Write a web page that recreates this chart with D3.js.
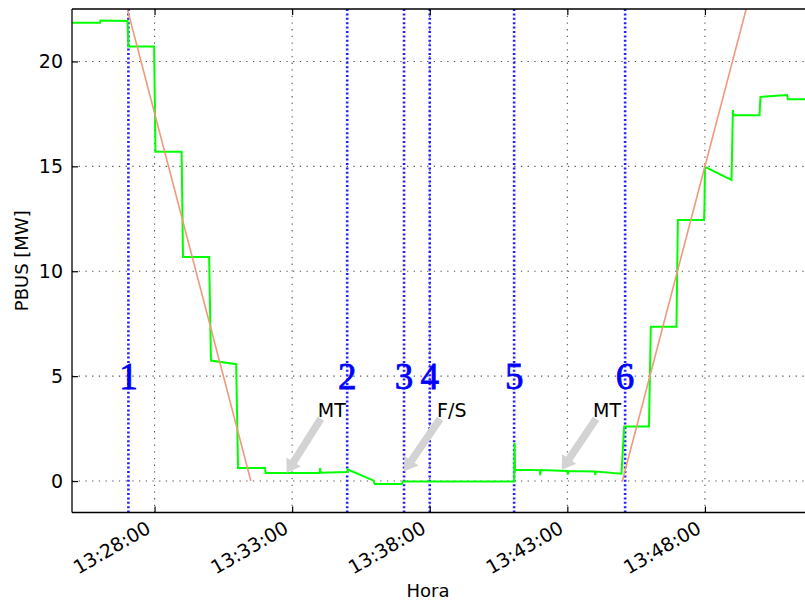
<!DOCTYPE html>
<html>
<head>
<meta charset="utf-8">
<script src="https://cdn.jsdelivr.net/npm/d3@7"></script>
<style>
	body { margin: 0; background: #fff; }
	svg { display: block; font-family: "DejaVu Sans", sans-serif; }
</style>
</head>
<body>
<svg id="chart" width="805" height="603"></svg>
<script>
// Measured power on the bus (green steps)
const times = [
	"13:25:00", "13:26:01", "13:26:02", "13:27:01", "13:27:03", "13:27:59",
	"13:28:02", "13:28:59", "13:29:02", "13:29:59", "13:30:03", "13:30:58",
	"13:31:02", "13:32:01", "13:32:02", "13:34:00", "13:34:01", "13:34:02",
	"13:35:00", "13:35:01", "13:35:57", "13:36:00", "13:36:59", "13:37:02",
	"13:41:04", "13:41:05", "13:41:06", "13:42:00", "13:42:01", "13:42:02",
	"13:43:00", "13:43:01", "13:43:02", "13:44:00", "13:44:01", "13:44:02",
	"13:44:58", "13:45:04", "13:45:58", "13:46:02", "13:46:58", "13:47:01",
	"13:47:58", "13:47:59", "13:48:00", "13:48:58", "13:49:01", "13:49:02",
	"13:49:59", "13:50:01", "13:50:59", "13:51:01", "13:52:00"
];
const pbus = [
	21.84, 21.84, 21.95, 21.93, 20.71, 20.71,
	15.70, 15.70, 10.68, 10.68, 5.74, 5.57,
	0.62, 0.62, 0.38, 0.38, 0.62, 0.40,
	0.43, 0.55, 0.03, -0.14, -0.14, -0.02,
	-0.02, 1.82, 0.54, 0.52, 0.28, 0.52,
	0.48, 0.30, 0.48, 0.45, 0.28, 0.45,
	0.35, 2.60, 2.60, 7.36, 7.36, 12.44,
	12.44, 13.0, 14.98, 14.35, 17.68, 17.44,
	17.44, 18.31, 18.40, 18.20, 18.20
];

// Ramp references (salmon lines)
const rampDownTimes = ["13:27:00", "13:31:30"];
const rampDownValues = [22.55, 0];
const rampUpTimes = ["13:45:00", "13:50:00"];
const rampUpValues = [0, 25];

// Numbered events (blue dotted lines)
const eventTimes = ["13:27:03", "13:35:00", "13:37:04", "13:38:00", "13:41:04", "13:45:06"];
const eventLabels = ["1", "2", "3", "4", "5", "6"];
const eventLabelValue = 5;

// Annotations: text anchor and arrow tip
const noteLabels = ["MT", "F/S", "MT"];
const noteTextTimes = ["13:33:56", "13:38:16", "13:43:56"];
const noteTextValues = [3.06, 3.06, 3.06];
const noteTipTimes = ["13:32:48", "13:37:04", "13:42:48"];
const noteTipValues = [0.38, 0.46, 0.54];

// Axes
const xTickLabels = ["13:28:00", "13:33:00", "13:38:00", "13:43:00", "13:48:00"];
const yTicks = [0, 5, 10, 15, 20];
const xDomain = ["13:25:00", "13:52:00"];
const yDomain = [-1.5, 22.5];

const parse = d3.timeParse("%H:%M:%S");

const svg = d3.select("#chart");
const margin = { left: 72, top: 9, right: 815, bottom: 512.5 };

const x = d3.scaleTime()
	.domain(xDomain.map(parse))
	.range([margin.left, margin.right]);
const y = d3.scaleLinear()
	.domain(yDomain)
	.range([margin.bottom, margin.top]);

svg.append("defs").append("clipPath").attr("id", "plot-clip")
	.append("rect")
	.attr("x", margin.left).attr("y", margin.top)
	.attr("width", margin.right - margin.left)
	.attr("height", margin.bottom - margin.top);

// Grid
const grid = svg.append("g").attr("class", "grid");
grid.selectAll(".gx")
	.data(xTickLabels.map(parse))
	.enter().append("line")
	.attr("x1", d => x(d)).attr("x2", d => x(d))
	.attr("y1", margin.top).attr("y2", margin.bottom)
	.attr("stroke", "#555").attr("stroke-width", 1.1)
	.attr("stroke-dasharray", "1.3,5.4");
grid.selectAll(".gy")
	.data(yTicks)
	.enter().append("line")
	.attr("y1", d => y(d)).attr("y2", d => y(d))
	.attr("x1", margin.left).attr("x2", margin.right)
	.attr("stroke", "#555").attr("stroke-width", 1.1)
	.attr("stroke-dasharray", "1.3,5.4");

const plot = svg.append("g").attr("clip-path", "url(#plot-clip)");

// Event lines
plot.selectAll(".event")
	.data(eventTimes.map(parse))
	.enter().append("line")
	.attr("class", "event")
	.attr("x1", d => x(d)).attr("x2", d => x(d))
	.attr("y1", margin.top).attr("y2", margin.bottom)
	.attr("stroke", "#2020ff").attr("stroke-width", 2.6)
	.attr("stroke-dasharray", "2,2.4");

// Measured power
const series = times.map((t, i) => ({ t: parse(t), v: pbus[i] }));
const line = d3.line().x(d => x(d.t)).y(d => y(d.v));

plot.append("path")
	.datum(series)
	.attr("d", line)
	.attr("fill", "none")
	.attr("stroke", "#00ff00")
	.attr("stroke-width", 2);

// Ramp references
[[rampDownTimes, rampDownValues], [rampUpTimes, rampUpValues]].forEach(([ts, vs]) => {
	plot.append("path")
		.datum(ts.map((t, i) => ({ t: parse(t), v: vs[i] })))
		.attr("d", line)
		.attr("fill", "none")
		.attr("stroke", "#ee9a7c")
		.attr("stroke-width", 1.6);
});

// Event numbers
plot.selectAll(".event-label")
	.data(eventTimes)
	.enter().append("text")
	.attr("x", d => x(parse(d)))
	.attr("y", y(eventLabelValue) + 12.5)
	.attr("text-anchor", "middle")
	.style("font-family", "'Liberation Serif', serif")
	.style("font-size", "37px")
	.attr("fill", "#0000ff")
	.attr("stroke", "#0000ff")
	.attr("stroke-width", 0.8)
	.text((d, i) => eventLabels[i]);

// Annotations with gray arrows
noteLabels.forEach((label, i) => {
	const tx = x(parse(noteTextTimes[i])), ty = y(noteTextValues[i]);
	const px = x(parse(noteTipTimes[i])), py = y(noteTipValues[i]);
	const sx = tx + 3, sy = ty + 2;
	const len = Math.hypot(px - sx, py - sy);
	const ang = Math.atan2(py - sy, px - sx) * 180 / Math.PI;
	const shaft = 3.8, head = 8.5, headLen = 13;
	svg.append("path")
		.attr("transform", `translate(${sx},${sy}) rotate(${ang})`)
		.attr("d", `M0,${-shaft}L${len - headLen},${-shaft}L${len - headLen},${-head}L${len},0` +
			`L${len - headLen},${head}L${len - headLen},${shaft}L0,${shaft}Z`)
		.attr("fill", "#d3d3d3");
	svg.append("text")
		.attr("x", tx).attr("y", ty)
		.style("font-size", "19px")
		.attr("fill", "#000")
		.text(label);
});

// Spines
svg.append("line")
	.attr("x1", margin.left).attr("x2", margin.left)
	.attr("y1", margin.top).attr("y2", margin.bottom)
	.attr("stroke", "#000").attr("stroke-width", 1.3);
svg.append("line")
	.attr("x1", margin.left).attr("x2", margin.right)
	.attr("y1", margin.bottom).attr("y2", margin.bottom)
	.attr("stroke", "#000").attr("stroke-width", 1.3);
svg.append("line")
	.attr("x1", margin.left).attr("x2", margin.right)
	.attr("y1", margin.top).attr("y2", margin.top)
	.attr("stroke", "#000").attr("stroke-width", 1.3);

// X axis (inward ticks, rotated labels)
const xAxis = svg.append("g").attr("transform", `translate(0,${margin.bottom})`)
	.call(d3.axisBottom(x)
		.tickValues(xTickLabels.map(parse))
		.tickFormat(d3.timeFormat("%H:%M:%S"))
		.tickSizeInner(-6).tickSizeOuter(0).tickPadding(0));
xAxis.select(".domain").remove();
xAxis.selectAll("line").attr("stroke", "#000").attr("stroke-width", 1.2);
xAxis.selectAll("text")
	.attr("y", 0).attr("dy", null)
	.attr("text-anchor", "end")
	.attr("transform", `translate(-3,19.5) rotate(-30)`)
	.style("font-family", "'DejaVu Sans', sans-serif")
	.style("font-size", "19px")
	.attr("fill", "#000");

// top ticks
svg.append("g").attr("transform", `translate(0,${margin.top})`)
	.call(d3.axisTop(x).tickValues(xTickLabels.map(parse)).tickSizeInner(-6).tickSizeOuter(0).tickFormat(""))
	.call(g => g.select(".domain").remove())
	.selectAll("line").attr("stroke", "#000").attr("stroke-width", 1.2);

// Y axis
const yAxis = svg.append("g").attr("transform", `translate(${margin.left},0)`)
	.call(d3.axisLeft(y).tickValues(yTicks).tickSizeInner(-6).tickSizeOuter(0).tickPadding(9));
yAxis.select(".domain").remove();
yAxis.selectAll("line").attr("stroke", "#000").attr("stroke-width", 1.2);
yAxis.selectAll("text")
	.style("font-family", "'DejaVu Sans', sans-serif")
	.style("font-size", "19px")
	.attr("fill", "#000");

// Axis titles
svg.append("text")
	.attr("x", 428).attr("y", 597)
	.attr("text-anchor", "middle")
	.style("font-size", "18px")
	.text("Hora");
svg.append("text")
	.attr("transform", `translate(28,${(margin.top + margin.bottom) / 2}) rotate(-90)`)
	.attr("text-anchor", "middle")
	.style("font-size", "18px")
	.text("PBUS [MW]");
</script>
</body>
</html>
